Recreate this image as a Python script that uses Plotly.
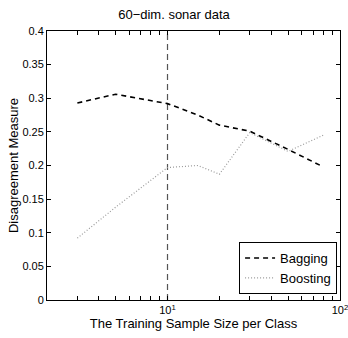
import plotly.graph_objects as go

sample_size = [3, 5, 10, 15, 20, 30, 50, 80]
bagging = [0.293, 0.306, 0.292, 0.275, 0.260, 0.251, 0.224, 0.198]
boosting = [0.092, 0.138, 0.197, 0.200, 0.187, 0.249, 0.221, 0.245]
ref_x = 10
y_ticks = [0, 0.05, 0.1, 0.15, 0.2, 0.25, 0.3, 0.35, 0.4]
y_ticktext = ["0", "0.05", "0.1", "0.15", "0.2", "0.25", "0.3", "0.35", "0.4"]
x_ticks = [2, 3, 4, 5, 6, 7, 8, 9, 10, 20, 30, 40, 50, 60, 70, 80, 90, 100]
x_ticktext = ["", "", "", "", "", "", "", "", "10<sup>1</sup>",
              "", "", "", "", "", "", "", "", "10<sup>2</sup>"]

FONT = "Liberation Sans, Arial, sans-serif"

fig = go.Figure()
fig.add_trace(go.Scatter(x=[ref_x, ref_x], y=[y_ticks[0], y_ticks[-1]], mode="lines",
                         line=dict(color="#555555", width=1.2, dash="6px,4px"),
                         showlegend=False, hoverinfo="skip"))
fig.add_trace(go.Scatter(x=sample_size, y=bagging, mode="lines", name="Bagging",
                         line=dict(color="black", width=1.6, dash="5px,4px")))
fig.add_trace(go.Scatter(x=sample_size, y=boosting, mode="lines", name="Boosting",
                         line=dict(color="#9a9a9a", width=1.2, dash="1px,2px")))

fig.update_layout(
    width=348, height=338,
    margin=dict(l=47, r=8, t=31, b=38, autoexpand=False),
    paper_bgcolor="white", plot_bgcolor="white",
    font=dict(family=FONT, size=11, color="black"),
    title=dict(text="60\u2212dim. sonar data", x=0.5, xanchor="center", y=0.958, yanchor="middle",
               font=dict(size=13, family=FONT)),
    legend=dict(x=0.99, y=0.022, xanchor="right", yanchor="bottom",
                bordercolor="black", borderwidth=1, bgcolor="white",
                font=dict(size=13, family=FONT), itemwidth=30, tracegroupgap=0),
    showlegend=True,
)
fig.update_xaxes(type="log", range=[0.30103, 2.0005], tickvals=x_ticks, ticktext=x_ticktext,
                 ticks="inside", ticklen=4, tickcolor="black", showline=True, linecolor="black",
                 linewidth=1, mirror="ticks", showgrid=False, zeroline=False,
                 ticklabeloverflow="allow", automargin=True,
                 title=dict(text="The Training Sample Size per Class", font=dict(size=13), standoff=3),
                 tickfont=dict(size=11))
fig.update_yaxes(range=[0, 0.4], tickvals=y_ticks, ticktext=y_ticktext,
                 ticks="inside", ticklen=4, tickcolor="black", showline=True, linecolor="black",
                 linewidth=1, mirror="ticks", showgrid=False, zeroline=False, automargin=True,
                 title=dict(text="Disagreement Measure", font=dict(size=13), standoff=0),
                 tickfont=dict(size=11))

fig.write_html("out.html", config={"displayModeBar": False},
               post_script="document.body.style.margin='0';document.body.style.overflow='hidden';")
